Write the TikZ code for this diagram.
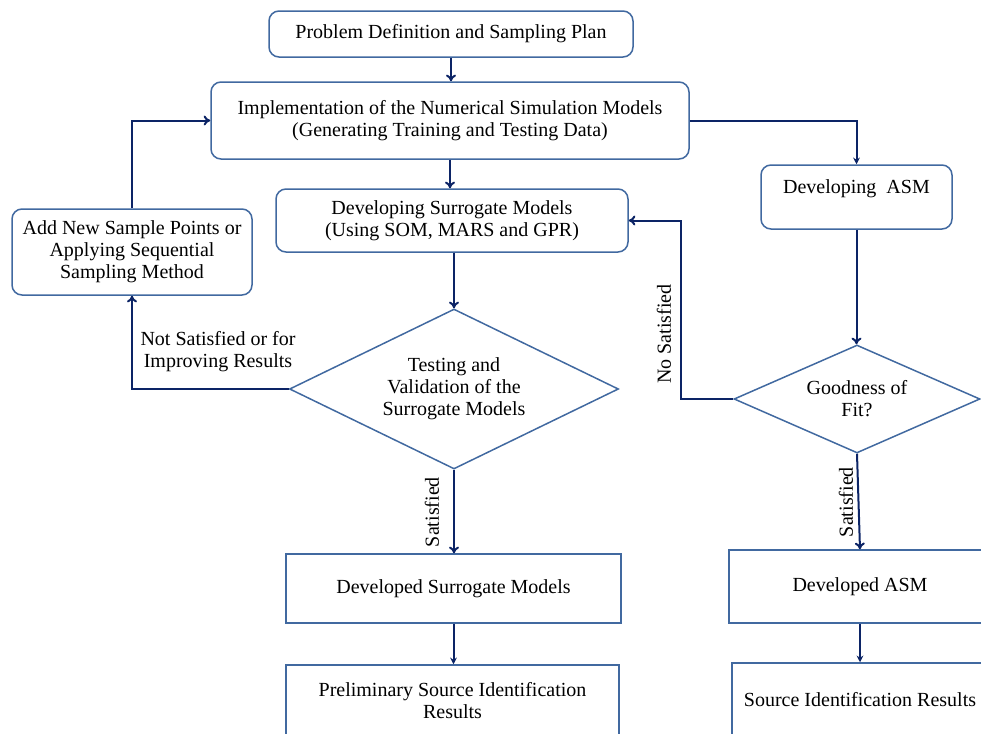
\documentclass[tikz,border=0pt]{standalone}
\usepackage{fontspec}
\setmainfont{Liberation Serif}
\usetikzlibrary{shapes.geometric,arrows.meta}
\definecolor{boxblue}{RGB}{65,105,160}
\definecolor{arrblue}{RGB}{12,36,102}

\begin{document}
\begin{tikzpicture}[x=0.6pt, y=-0.6pt, every node/.append style={font=\fontsize{12}{13.2}\selectfont}]
  \tikzstyle{rnode} = [draw=boxblue, line width=0.9pt, rectangle, rounded corners=6pt, align=center, inner sep=2pt]
  \tikzstyle{snode} = [draw=boxblue, line width=0.9pt, rectangle, align=center, inner sep=2pt]
  \tikzstyle{dnode} = [draw=boxblue, line width=0.9pt, diamond, shape aspect=2, align=center, inner sep=0pt]
  \tikzstyle{lnode} = [align=center, inner sep=1pt]
  \tikzstyle{conn} = [draw=arrblue, line width=1.2pt, -{To[length=4pt,width=6pt]}]
  \tikzstyle{sconn} = [draw=arrblue, line width=1.2pt, -{Stealth[length=4pt,width=4pt]}]

  \useasboundingbox (0,0) rectangle (981,734);

  %%%%%%%%%%%%%%%%%%%%%%%%%%%%%%
  %% Upper part
  %%%%%%%%%%%%%%%%%%%%%%%%%%%%%%
  \node[rnode, minimum width=218.4pt, minimum height=27.6pt] (plan) at (451,34) {Problem Definition and Sampling Plan};
  \node[rnode, minimum width=286.8pt, minimum height=46.2pt] (impl) at (450,120.5) {Implementation of the Numerical Simulation Models\\(Generating Training and Testing Data)};
  \node[rnode, minimum width=211.2pt, minimum height=37.8pt] (dev) at (452,220.5) {Developing Surrogate Models\\(Using SOM, MARS and GPR)};
  \node[rnode, minimum width=144pt, minimum height=51.6pt] (add) at (132,252) {Add New Sample Points or\\Applying Sequential\\Sampling Method};
  \node[rnode, minimum width=114.6pt, minimum height=38.4pt, text height=8.5pt, text depth=12.5pt] (asm) at (856.5,197) {Developing~~ASM};

  %%%%%%%%%%%%%%%%%%%%%%%%%%%%%%
  %% Decisions
  %%%%%%%%%%%%%%%%%%%%%%%%%%%%%%
  \node[dnode, minimum width=197.4pt, minimum height=96pt] (test) at (454,389) {Testing and\\Validation of the\\Surrogate Models};
  \node[dnode, minimum width=147.6pt, minimum height=64.8pt] (fit) at (857,399) {Goodness of\\Fit?};

  %%%%%%%%%%%%%%%%%%%%%%%%%%%%%%
  %% Results
  %%%%%%%%%%%%%%%%%%%%%%%%%%%%%%
  \node[snode, minimum width=201pt, minimum height=41.4pt] (devsm) at (453.5,588.5) {Developed Surrogate Models};
  \node[snode, minimum width=199.8pt, minimum height=43.2pt] (prelim) at (452.5,701) {Preliminary Source Identification\\Results};
  \node[snode, minimum width=157.2pt, minimum height=43.8pt] (devasm) at (860,586.5) {Developed ASM};
  \node[snode, minimum width=153.6pt, minimum height=44.4pt] (src) at (860,700) {Source Identification Results};

  % labels
  \node[lnode] (notsat) at (218,352) {Not Satisfied or for\\Improving Results};
  \node[lnode, rotate=90] (sat1) at (432,512) {Satisfied};
  \node[lnode, rotate=90] (sat2) at (846,502) {Satisfied};
  \node[lnode, rotate=90] (nosat) at (664,334) {No Satisfied};

  \coordinate (nsbend) at (681,399);

  % edges
  \draw[conn] (plan.south) -- (plan.south |- impl.north);
  \draw[conn] (impl.south) -- (impl.south |- dev.north);
  \draw[conn] (test.north |- dev.south) -- (test.north);
  \draw[conn] (test.south) -- (test.south |- devsm.north);
  \draw[sconn] (devsm.south) -- (devsm.south |- prelim.north);

  \draw[conn] (test.west) -| (add.south);
  \draw[conn] (add.north) |- (impl.west);

  \draw[sconn] (impl.east) -| (asm.north);
  \draw[conn] (asm.south) -- (asm.south |- fit.north);
  \draw[conn] (fit.west) -- (nsbend) |- (dev.east);
  \draw[conn] (fit.south) -- (devasm.north);
  \draw[sconn] (devasm.south) -- (devasm.south |- src.north);

\end{tikzpicture}
\end{document}
